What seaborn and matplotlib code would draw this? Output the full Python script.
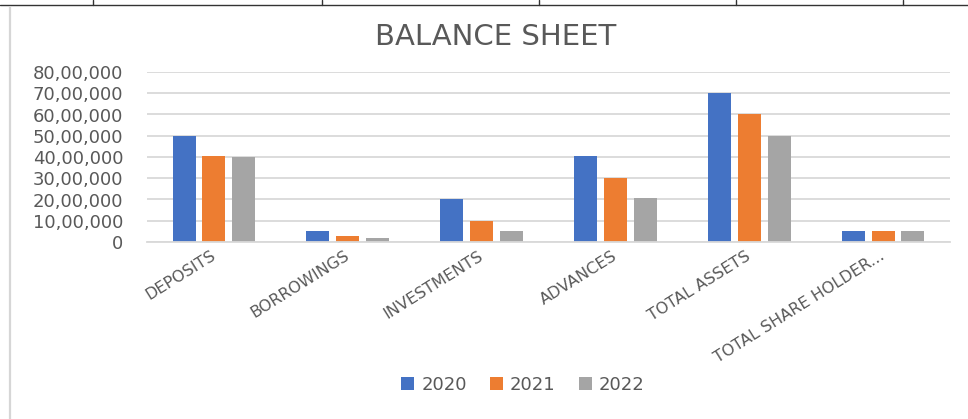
import matplotlib
matplotlib.use("Agg")
import matplotlib.pyplot as plt
from matplotlib.lines import Line2D
from matplotlib.ticker import FuncFormatter
import seaborn as sns
import pandas as pd

categories = ["DEPOSITS", "BORROWINGS", "INVESTMENTS", "ADVANCES",
              "TOTAL ASSETS", "TOTAL SHARE HOLDER..."]
years = ["2020", "2021", "2022"]
values_2020 = [5000000, 500000, 2000000, 4050000, 7000000, 500000]
values_2021 = [4050000, 300000, 1000000, 3000000, 6000000, 500000]
values_2022 = [4000000, 200000, 500000, 2050000, 5000000, 500000]
y_ticks = [0, 1000000, 2000000, 3000000, 4000000, 5000000, 6000000, 7000000, 8000000]
title = "BALANCE SHEET"

colors = ["#4472C4", "#ED7D31", "#A5A5A5"]
text_color = "#595959"

rows = []
for yr, vals in zip(years, [values_2020, values_2021, values_2022]):
    for c, v in zip(categories, vals):
        rows.append({"Category": c, "Year": yr, "Value": v})
df = pd.DataFrame(rows)


def indian(v, pos=None):
    v = int(round(v))
    if v == 0:
        return "0"
    s = str(v)
    last3 = s[-3:]
    rest = s[:-3]
    groups = []
    while len(rest) > 2:
        groups.insert(0, rest[-2:])
        rest = rest[:-2]
    if rest:
        groups.insert(0, rest)
    return ",".join(groups + [last3])


sns.set_theme(style="white")
plt.rcParams["font.family"] = ["DejaVu Sans"]

W, H = 968, 419
fig = plt.figure(figsize=(W / 100, H / 100), dpi=100)
fig.patch.set_facecolor("white")
ax = fig.add_axes([147 / W, 1 - 242 / H, (950 - 147) / W, (242 - 72) / H])

sns.barplot(data=df, x="Category", y="Value", hue="Year", palette=colors,
            width=0.67, gap=0.23, ax=ax, saturation=1, legend=True,
            linewidth=0, edgecolor="none")

ax.set_ylim(0, 8000000)
ax.set_yticks(y_ticks)
ax.yaxis.set_major_formatter(FuncFormatter(indian))
ax.set_xlim(-0.5, len(categories) - 0.5)
ax.set_xlabel("")
ax.set_ylabel("")
ax.grid(axis="y", color="#D9D9D9", linewidth=1.3)
ax.set_axisbelow(True)
for s in ["left", "right", "top"]:
    ax.spines[s].set_visible(False)
ax.spines["bottom"].set_color("#D9D9D9")
ax.spines["bottom"].set_linewidth(1.3)
ax.tick_params(axis="y", length=0, pad=17, labelsize=13, labelcolor=text_color)
ax.tick_params(axis="x", length=0, pad=9, labelsize=11.5, labelcolor=text_color)
for lab in ax.get_xticklabels():
    lab.set_rotation(32)
    lab.set_ha("right")
    lab.set_va("center")
    lab.set_rotation_mode("anchor")

handles, labels = ax.get_legend_handles_labels()
ax.legend_.remove()
fig.legend(handles, labels, loc="center", bbox_to_anchor=(523 / W, 1 - 385 / H),
           ncol=3, frameon=False, fontsize=13, labelcolor=text_color,
           handlelength=0.7, handleheight=0.7, handletextpad=0.4,
           columnspacing=1.3)

fig.text(496 / W, 1 - 37 / H, title, ha="center", va="center",
         fontsize=21, color=text_color)

# spreadsheet surroundings
def fline(x0, y0, x1, y1, color, lw):
    fig.add_artist(Line2D([x0 / W, x1 / W], [1 - y0 / H, 1 - y1 / H],
                          color=color, lw=lw, transform=fig.transFigure))

fline(0, 5, W, 5, "#333333", 1.0)
for xv in [93, 322, 539, 736, 903]:
    fline(xv, 0, xv, 5, "#333333", 1.0)
fline(10, 7, 10, H, "#D6D6D6", 1.6)

fig.savefig("out.png", dpi=100, facecolor="white")
